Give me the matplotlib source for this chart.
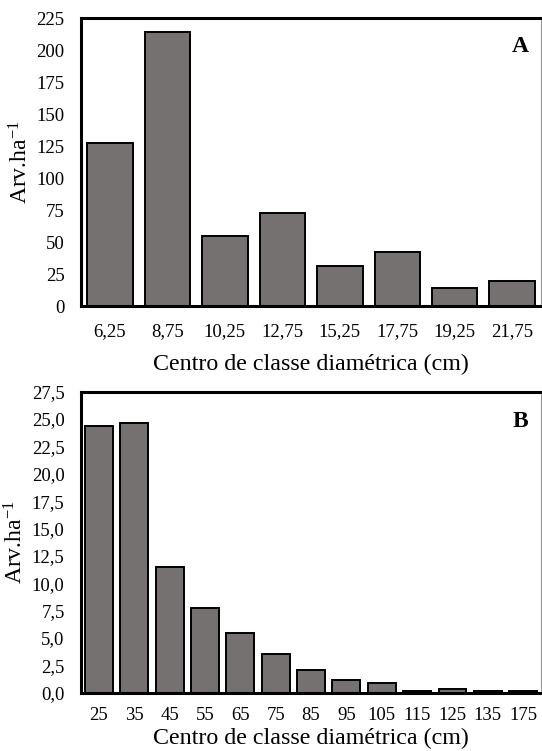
import numpy as np
import matplotlib
matplotlib.use('Agg')
import matplotlib.pyplot as plt

plt.rcParams['font.family'] = 'Liberation Serif'
plt.rcParams['mathtext.fontset'] = 'custom'
plt.rcParams['mathtext.rm'] = 'Liberation Serif'
plt.rcParams['mathtext.default'] = 'regular'

# panel A
classes_a = ['6,25', '8,75', '10,25', '12,75', '15,25', '17,75', '19,25', '21,75']
arv_a = [127.5, 214, 54.5, 73, 31, 42, 14, 19.5]
yticks_a = [0, 25, 50, 75, 100, 125, 150, 175, 200, 225]

# panel B
classes_b = ['25', '35', '45', '55', '65', '75', '85', '95', '105', '115', '125', '135', '175']
arv_b = [24.35, 24.65, 11.5, 7.7, 5.45, 3.5, 2.05, 1.15, 0.92, 0.2, 0.35, 0.15, 0.15]
yticks_b = [0, 2.5, 5, 7.5, 10, 12.5, 15, 17.5, 20, 22.5, 25, 27.5]

bar_color = '#767171'

fig = plt.figure(figsize=(5.42, 7.51), dpi=100)
ax_a = fig.add_axes([0.150, 0.5925, 0.848, 0.3835])
ax_b = fig.add_axes([0.150, 0.0776, 0.848, 0.4008])


def draw_panel(ax, classes, values, yticks, ylabels, letter):
    x = np.arange(len(classes))
    ax.bar(x, values, width=0.79, color=bar_color, edgecolor='black', linewidth=1.4, zorder=2)
    ax.set_xlim(-0.5, len(classes) - 0.5)
    ax.set_ylim(yticks[0], yticks[-1])
    ax.set_xticks(x)
    ax.set_xticklabels(classes, fontsize=13.5)
    ax.set_yticks(yticks)
    ax.set_yticklabels(ylabels, fontsize=13.5)
    ax.tick_params(length=0, pad=12)
    ax.tick_params(axis='x', pad=12)
    for s in ['left', 'bottom', 'top']:
        ax.spines[s].set_linewidth(2.2)
        ax.spines[s].set_color('black')
    ax.spines['right'].set_linewidth(0.8)
    ax.spines['right'].set_color('#999999')
    ax.set_ylabel('Arv.ha$^{-1}$', fontsize=17, labelpad=3)
    ax.text(0.955, 0.9, letter, transform=ax.transAxes, fontsize=17,
            fontweight='bold', ha='center', va='center')


draw_panel(ax_a, classes_a, arv_a, yticks_a, [str(v) for v in yticks_a], 'A')
ax_a.set_xlabel('Centro de classe diamétrica (cm)', fontsize=17.3, labelpad=10)

draw_panel(ax_b, classes_b, arv_b, yticks_b,
           [('%.1f' % v).replace('.', ',') for v in yticks_b], 'B')
ax_b.tick_params(axis='x', pad=10)
ax_b.set_xlabel('Centro de classe diamétrica (cm)', fontsize=17.3, labelpad=3)

fig.savefig('out.png', dpi=100)
